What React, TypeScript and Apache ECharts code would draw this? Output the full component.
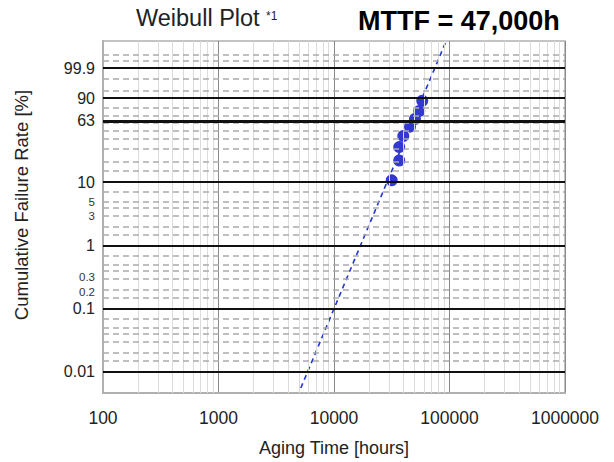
import React, { useEffect, useRef } from "react";
import * as echarts from "echarts";

// ---- data ----
const xMin = 100;
const xMax = 1000000;
const pointTime = [31600, 36700, 36700, 39800, 45500, 50200, 54700, 58100];
const pointPct = [10.6, 20.7, 31.6, 43.6, 55.3, 65.6, 76.1, 87.6];
const fitLineTime = [5160, 92700];
const fitLinePct = [0.00545, 99.9999985];
const majorPct = [99.9, 90, 63, 10, 1, 0.1, 0.01];
const smallLabelPct = [5, 3, 0.3, 0.2];
const minorPct = [
  99.999, 99.99, 99, 95, 80, 70, 60, 50, 40, 30, 20, 15, 7, 5, 4, 3, 2, 1.5,
  0.7, 0.5, 0.4, 0.3, 0.2, 0.15, 0.07, 0.05, 0.04, 0.03, 0.02, 0.015,
];
const decades = [100, 1000, 10000, 100000];
const minorMultipliers = [2, 3, 4, 5, 6, 7, 8, 9];
const titleText = "Weibull Plot";
const titleSup = "*1";
const mttfText = "MTTF = 47,000h";
const yName = "Cumulative Failure Rate [%]";
const xName = "Aging Time [hours]";

const FONT = 'Arial, "Liberation Sans", sans-serif';

// Weibull probability scale transform: ln(-ln(1-F))
const weibull = (pct: number) => Math.log(-Math.log(1 - pct / 100));

export default function App() {
  const ref = useRef<HTMLDivElement>(null);

  useEffect(() => {
    document.body.style.margin = "0";
    if (!ref.current) return;
    const chart = echarts.init(ref.current, undefined, { renderer: "svg" });

    const labelPcts = [...majorPct, ...smallLabelPct].sort((a, b) => a - b);
    const labelValues = labelPcts.map(weibull);
    const labelFor = (v: number) => {
      let best = 0;
      let bd = Infinity;
      labelValues.forEach((lv, i) => {
        const d = Math.abs(lv - v);
        if (d < bd) {
          bd = d;
          best = i;
        }
      });
      const p = labelPcts[best];
      if (!smallLabelPct.includes(p)) return `{b|${p}}`;
      // the two closely spaced small labels are nudged apart as in the reference
      const style = p === 0.3 ? "su" : p === 0.2 ? "sd" : "s";
      return `{${style}|${p}}`;
    };

    const minorTimes: number[] = [];
    decades.forEach((d) => minorMultipliers.forEach((k) => minorTimes.push(k * d)));

    const gridLines: any[] = [];
    minorTimes.forEach((t) =>
      gridLines.push({ xAxis: t, lineStyle: { color: "#dcdcdc", width: 1, type: "solid" } })
    );
    minorPct.forEach((p) =>
      gridLines.push({
        yAxis: weibull(p),
        lineStyle: { color: "#ababab", width: 1.6, type: [6, 4] },
      })
    );
    majorPct.forEach((p) =>
      gridLines.push({
        yAxis: weibull(p),
        lineStyle: { color: "#111111", width: p === 63 ? 3 : 2, type: "solid" },
      })
    );

    const small = { fontFamily: FONT, fontSize: 11.5, lineHeight: 11, color: "#333" };

    chart.setOption({
      animation: false,
      grid: {
        left: 103,
        right: 49,
        top: 41,
        bottom: 68,
        show: true,
        borderColor: "#b0b0b0",
        borderWidth: 1.5,
        backgroundColor: "#ffffff",
      },
      xAxis: {
        type: "log",
        logBase: 10,
        min: xMin,
        max: xMax,
        name: xName,
        nameLocation: "middle",
        nameGap: 46,
        nameTextStyle: { fontFamily: FONT, fontSize: 18, color: "#222" },
        axisLine: { onZero: false, lineStyle: { color: "#b0b0b0", width: 2 } },
        axisTick: { show: false },
        axisLabel: {
          fontFamily: FONT,
          fontSize: 17.5,
          color: "#222",
          margin: 16,
          formatter: (v: number) => String(Math.round(v)),
        },
        splitLine: { show: true, lineStyle: { color: "#8a8a8a", width: 1 } },
      },
      yAxis: {
        type: "value",
        min: -10,
        max: 2.93,
        axisLine: { show: true, lineStyle: { color: "#b0b0b0", width: 2 } },
        axisTick: { show: false },
        splitLine: { show: false },
        axisLabel: {
          customValues: labelValues,
          hideOverlap: false,
          showMinLabel: true,
          showMaxLabel: true,
          margin: 8,
          formatter: (v: number) => labelFor(v),
          rich: {
            b: { fontFamily: FONT, fontSize: 16, lineHeight: 16, color: "#222" },
            s: small,
            su: { ...small, padding: [0, 0, 4, 0] },
            sd: { ...small, padding: [4, 0, 0, 0] },
          },
        },
      },
      graphic: [
        {
          type: "text",
          x: 136,
          y: 17.5,
          style: {
            text: titleText,
            fontFamily: FONT,
            fontSize: 23.5,
            fill: "#222",
            align: "left",
            textAlign: "left",
            verticalAlign: "middle",
            textVerticalAlign: "middle",
          },
        },
        {
          type: "text",
          x: 266,
          y: 15.5,
          style: {
            text: titleSup,
            fontFamily: FONT,
            fontSize: 12,
            fill: "#222",
            align: "left",
            textAlign: "left",
            verticalAlign: "middle",
            textVerticalAlign: "middle",
          },
        },
        {
          type: "text",
          x: 358,
          y: 21,
          style: {
            text: mttfText,
            fontFamily: FONT,
            fontSize: 27,
            fontWeight: "bold",
            fill: "#000",
            align: "left",
            textAlign: "left",
            verticalAlign: "middle",
            textVerticalAlign: "middle",
          },
        },
        {
          type: "text",
          x: 21,
          y: 205,
          rotation: Math.PI / 2,
          style: {
            text: yName,
            fontFamily: FONT,
            fontSize: 18.5,
            fill: "#222",
            align: "center",
            textAlign: "center",
            verticalAlign: "middle",
            textVerticalAlign: "middle",
          },
        },
      ],
      series: [
        {
          name: "grid",
          type: "line",
          data: [],
          silent: true,
          z: 1,
          markLine: {
            silent: true,
            symbol: ["none", "none"],
            label: { show: false },
            animation: false,
            data: gridLines,
          },
        },
        {
          name: "fit",
          type: "line",
          z: 3,
          showSymbol: false,
          symbol: "none",
          lineStyle: { color: "#2235d0", width: 1.6, type: [5, 4] },
          data: fitLineTime.map((t, i) => [t, weibull(fitLinePct[i])]),
        },
        {
          name: "samples",
          type: "scatter",
          z: 4,
          symbolSize: 12,
          itemStyle: { color: "#3338d2", opacity: 1 },
          data: pointTime.map((t, i) => [t, weibull(pointPct[i])]),
        },
      ],
    });

    return () => chart.dispose();
  }, []);

  return <div ref={ref} style={{ width: 614, height: 462 }} />;
}
